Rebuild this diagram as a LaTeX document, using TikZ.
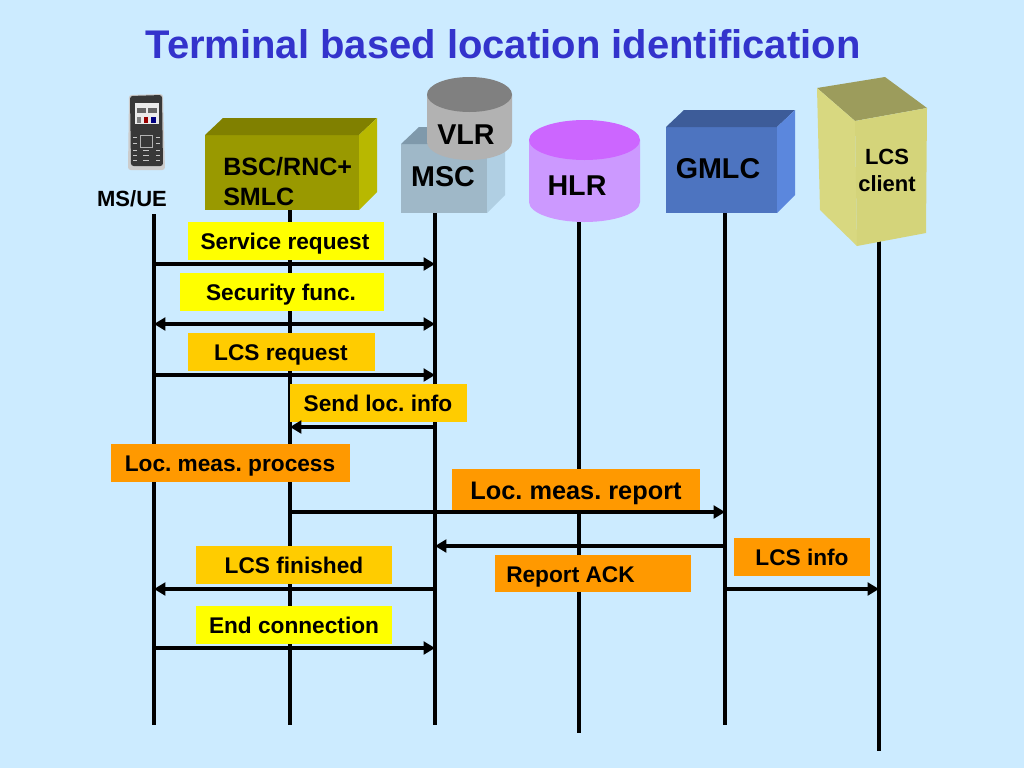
\documentclass[tikz,border=0pt]{standalone}
\usepackage{fontspec}
\setmainfont{Liberation Sans}
\usetikzlibrary{arrows.meta}
\definecolor{bgc}{HTML}{CCEBFF}
\definecolor{titlec}{HTML}{3333CC}
\definecolor{yel}{HTML}{FFFF00}
\definecolor{gold}{HTML}{FFCC00}
\definecolor{ora}{HTML}{FF9900}
\definecolor{bscF}{HTML}{999900}
\definecolor{bscT}{HTML}{808000}
\definecolor{bscR}{HTML}{B8B800}
\definecolor{mscF}{HTML}{9FB8C8}
\definecolor{mscT}{HTML}{7F99AB}
\definecolor{mscR}{HTML}{B0CFE3}
\definecolor{vlrS}{HTML}{B2B2B2}
\definecolor{vlrT}{HTML}{808080}
\definecolor{hlrS}{HTML}{CC99FF}
\definecolor{hlrT}{HTML}{CC66FF}
\definecolor{gmF}{HTML}{4D74C0}
\definecolor{gmT}{HTML}{3D5C99}
\definecolor{gmR}{HTML}{5B87DD}
\definecolor{lcT}{HTML}{9C9C5C}
\definecolor{lcL}{HTML}{D8D880}
\definecolor{lcR}{HTML}{D4D47A}
\newcommand{\fsz}[1]{\fontsize{#1}{#1}\selectfont\bfseries\frenchspacing}
\tikzset{
  life/.style={line width=3pt,black},
  msg/.style={line width=2.6pt,black,-{Triangle[length=8.5pt,width=9.5pt]}},
  msgboth/.style={line width=2.6pt,black,{Triangle[length=8.5pt,width=9.5pt]}-{Triangle[length=8.5pt,width=9.5pt]}},
  lbl/.style={inner sep=0pt,anchor=base,font=\fsz{17},text=black},
  ent/.style={inner sep=0pt,anchor=base,font=\fsz{21.5},text=black},
}
\begin{document}
\begin{tikzpicture}[x=0.75pt,y=-0.75pt]
\useasboundingbox (0,0) rectangle (1024,768);
\fill[bgc] (0,0) rectangle (1024,768);
\node[inner sep=0pt,anchor=base,font=\fsz{30},text=titlec] (title) at (503,58) {Terminal based location identification};

% phone
\fill[gray!40] (129,95) [rounded corners=2pt] -- (163,94) -- (165,170) -- (128,170) -- cycle;
\fill[black!78] (130,96) [rounded corners=2pt] -- (162,95) -- (163,166) -- (131,166) -- cycle;
\fill[white!92!black] (135,103) rectangle (159,124);
\fill[black!60] (137,108) rectangle (146,113);
\fill[black!60] (148,108) rectangle (157,113);
\fill[red!60!black] (144,117) rectangle (148,123);
\fill[blue!50!black] (151,117) rectangle (156,123);
\fill[black!50] (137,117) rectangle (141,123);
\draw[gray!60,line width=0.6pt] (140,135) rectangle (152,147);
\foreach \yy in {137,143,150,155,160}{
  \draw[gray!45,line width=0.6pt] (133,\yy) -- (137,\yy);
  \draw[gray!45,line width=0.6pt] (156,\yy) -- (160,\yy);
}
\foreach \yy in {150,155,160}{\draw[gray!45,line width=0.6pt] (143,\yy) -- (149,\yy);}

\node[inner sep=0pt,anchor=base,font=\fsz{16.5}] (ms) at (132,206) {MS/UE};

% lifelines
\coordinate (msT) at (154,214); \coordinate (msB) at (154,725);
\coordinate (smT) at (290,205); \coordinate (smB) at (290,725);
\coordinate (mcT) at (435,205); \coordinate (mcB) at (435,725);
\coordinate (hlT) at (579,210); \coordinate (hlB) at (579,733);
\coordinate (gmT) at (725,205); \coordinate (gmB) at (725,725);
\coordinate (lcT) at (879,238); \coordinate (lcB) at (879,751);
\draw[life] (msT) -- (msB);
\draw[life] (smT) -- (smB);
\draw[life] (mcT) -- (mcB);
\draw[life] (hlT) -- (hlB);
\draw[life] (gmT) -- (gmB);
\draw[life] (lcT) -- (lcB);

% BSC box
\fill[bscF] (205,135) rectangle (359,210);
\fill[bscT] (205,135) -- (223,118) -- (377,118) -- (359,135) -- cycle;
\fill[bscR] (359,135) -- (377,118) -- (377,192) -- (359,210) -- cycle;
\node[inner sep=0pt,font=\fsz{18.8},anchor=base west] (bsc) at (223,175) {BSC/RNC+};
\node[inner sep=0pt,font=\fsz{18.8},anchor=base west] (bsc2) at (223,205) {SMLC};

% MSC box
\fill[mscF] (401,144) rectangle (487,213);
\fill[mscT] (401,144) -- (419,127) -- (505,127) -- (487,144) -- cycle;
\fill[mscR] (487,144) -- (505,127) -- (505,195) -- (487,213) -- cycle;
\node[ent] (msc) at (443,186) {MSC};

% VLR cylinder
\fill[vlrS] (427,94.5) -- (427,142) arc[start angle=180,end angle=0,x radius=42.5,y radius=18] -- (512,94.5) -- cycle;
\fill[vlrT] (469.5,94.5) ellipse[x radius=42.5,y radius=17.5];
\node[ent] (vlr) at (466,144) {VLR};

% HLR cylinder
\fill[hlrS] (529,140) -- (529,202) arc[start angle=180,end angle=0,x radius=55.5,y radius=20] -- (640,140) -- cycle;
\fill[hlrT] (584.5,140) ellipse[x radius=55.5,y radius=20];
\node[ent] (hlr) at (577,195) {HLR};

% GMLC box
\fill[gmF] (666,127) rectangle (777,213);
\fill[gmT] (666,127) -- (684,110) -- (795,110) -- (777,127) -- cycle;
\fill[gmR] (777,127) -- (795,110) -- (795,195) -- (777,213) -- cycle;
\node[ent] (gmlc) at (718,178) {GMLC};

% LCS client box
\fill[lcT] (817,88) -- (885,77) -- (927,108) -- (855,121) -- cycle;
\fill[lcL] (817,88) -- (855,121) -- (857,246) -- (820,210) -- cycle;
\fill[lcR] (855,121) -- (927,108) -- (926,233) -- (857,246) -- cycle;
\node[inner sep=0pt,anchor=base,font=\fsz{16.5}] (lcs) at (887,164) {LCS};
\node[inner sep=0pt,anchor=base,font=\fsz{16.5}] (lcs2) at (887,191) {client};

% labels
\fill[yel] (188,222) rectangle (384,260);
\node[lbl] (l1) at (285,249) {Service request};
\fill[yel] (180,273) rectangle (384,311);
\node[lbl] (l2) at (281,300) {Security func.};
\fill[gold] (188,333) rectangle (375,371);
\node[lbl] (l3) at (281,360) {LCS request};
\fill[gold] (290,384) rectangle (467,422);
\node[lbl] (l4) at (378,411.5) {Send loc. info};
\fill[ora] (111,444) rectangle (350,482);
\node[lbl] (l5) at (230,471) {Loc. meas. process};
\fill[ora] (452,469) rectangle (700,511);
\node[lbl,font=\fsz{19}] (l6) at (576,499) {Loc. meas. report};
\fill[ora] (734,538) rectangle (870,576);
\node[lbl] (l7) at (802,565) {LCS info};
\fill[ora] (495,555) rectangle (691,592);
\node[lbl,anchor=base west] (l8) at (506,582) {Report ACK};
\fill[gold] (196,546) rectangle (392,584);
\node[lbl] (l9) at (294,573) {LCS finished};
\fill[yel] (196,606) rectangle (392,644);
\node[lbl] (l10) at (294,633) {End connection};

% messages
\coordinate (a1) at (154,264); \coordinate (b1) at (435,264);
\coordinate (a2) at (154,324); \coordinate (b2) at (435,324);
\coordinate (a3) at (154,375); \coordinate (b3) at (435,375);
\coordinate (a4) at (435,427); \coordinate (b4) at (290,427);
\coordinate (a5) at (290,512); \coordinate (b5) at (725,512);
\coordinate (a6) at (725,546); \coordinate (b6) at (435,546);
\coordinate (a7) at (435,589); \coordinate (b7) at (154,589);
\coordinate (a8) at (154,648); \coordinate (b8) at (435,648);
\coordinate (a9) at (725,589); \coordinate (b9) at (879,589);
\draw[msg] (a1) -- (b1);
\draw[msgboth] (a2) -- (b2);
\draw[msg] (a3) -- (b3);
\draw[msg] (a4) -- (b4);
\draw[msg] (a5) -- (b5);
\draw[msg] (a6) -- (b6);
\draw[msg] (a7) -- (b7);
\draw[msg] (a8) -- (b8);
\draw[msg] (a9) -- (b9);
\end{tikzpicture}
\end{document}
